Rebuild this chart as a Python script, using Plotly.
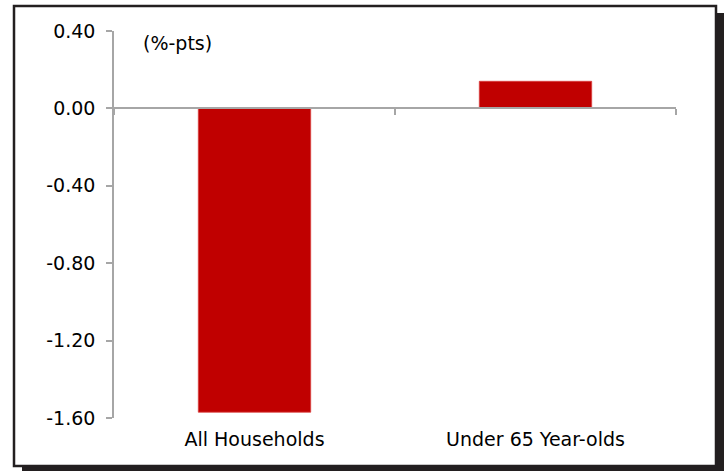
import plotly.graph_objects as go

# Change in rate by household group, percentage points
categories = ["All Households", "Under 65 Year-olds"]
values = [-1.57, 0.14]
y_ticks = [-1.6, -1.2, -0.8, -0.4, 0.0, 0.4]
y_tick_labels = ["-1.60", "-1.20", "-0.80", "-0.40", "0.00", "0.40"]

W, H = 725, 473
L, R, T, B = 114, 49, 31, 55
pw, ph = W - L - R, H - T - B


def px_x(x):
    return (x - L) / pw


def px_y(y):
    return (H - B - y) / ph


FONT = "DejaVu Sans"
FSIZE = 19
AXIS_GREY = "#a6a6a6"

fig = go.Figure()
fig.add_trace(go.Bar(
    x=categories, y=values,
    marker=dict(color="#c00000", line=dict(color="#d9403f", width=0.8)),
    width=0.4,
    showlegend=False,
))
# invisible trace so the boundary tick axis has its own scale
fig.add_trace(go.Scatter(x=[-0.5, 1.5], y=[0, 0], xaxis="x2", mode="markers",
                         marker=dict(opacity=0), showlegend=False, hoverinfo="skip"))

fig.update_layout(
    width=W, height=H,
    margin=dict(l=L, r=R, t=T, b=B),
    paper_bgcolor="white",
    plot_bgcolor="rgba(0,0,0,0)",
    font=dict(family=FONT, size=FSIZE, color="#000000"),
    xaxis=dict(
        type="category", showline=False, ticks="", showgrid=False, zeroline=False,
        tickfont=dict(size=FSIZE), ticklabelstandoff=8, range=[-0.5, 1.5],
    ),
    xaxis2=dict(
        overlaying="x", anchor="free", position=1.6 / 2.0,
        range=[-0.5, 1.5], showline=True, linecolor=AXIS_GREY, linewidth=1.5,
        ticks="outside", ticklen=6, tickcolor=AXIS_GREY, tickwidth=1.5,
        tickvals=[-0.5, 0.5, 1.5], showticklabels=False, showgrid=False, zeroline=False,
        side="bottom",
    ),
    yaxis=dict(
        range=[-1.6, 0.4], tickvals=y_ticks, ticktext=y_tick_labels,
        showline=True, linecolor=AXIS_GREY, linewidth=1.5,
        ticks="outside", ticklen=6, tickcolor=AXIS_GREY, tickwidth=1.5,
        showgrid=False, zeroline=False, ticklabelstandoff=7,
        tickfont=dict(size=FSIZE),
    ),
    shapes=[
        # drop shadow of the frame
        dict(type="rect", xref="paper", yref="paper", layer="below",
             x0=px_x(22), x1=px_x(724), y0=px_y(471), y1=px_y(13),
             fillcolor="#231f20", line=dict(width=0)),
        # frame
        dict(type="rect", xref="paper", yref="paper", layer="below",
             x0=px_x(14), x1=px_x(716), y0=px_y(466), y1=px_y(6),
             fillcolor="white", line=dict(color="#231f20", width=2.5)),
    ],
    annotations=[
        dict(text="(%-pts)", xref="paper", yref="paper", x=px_x(141), y=px_y(43),
             xanchor="left", yanchor="middle", showarrow=False,
             font=dict(family=FONT, size=FSIZE, color="#000000")),
    ],
)

fig.write_html("out.html")
